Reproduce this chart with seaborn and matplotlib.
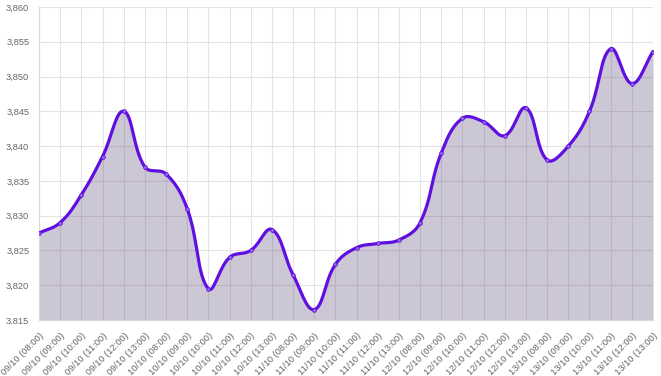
import numpy as np
import matplotlib
matplotlib.use("Agg")
import matplotlib.pyplot as plt
import seaborn as sns

# categories and values
days = ["09/10"] * 6 + ["10/10"] * 6 + ["11/10"] * 6 + ["12/10"] * 6 + ["13/10"] * 6
hours = ["08:00", "09:00", "10:00", "11:00", "12:00", "13:00"] * 5
labels = [f"{d} ({h})" for d, h in zip(days, hours)]
values = [3.8275, 3.829, 3.833, 3.8385, 3.845, 3.837,
          3.836, 3.831, 3.8195, 3.824, 3.825, 3.828,
          3.8215, 3.8165, 3.823, 3.8254, 3.826, 3.8265,
          3.829, 3.839, 3.844, 3.8435, 3.8415, 3.8455,
          3.838, 3.840, 3.845, 3.854, 3.849, 3.8536]
yticks = [3.815, 3.820, 3.825, 3.830, 3.835, 3.840, 3.845, 3.850, 3.855, 3.860]
ytick_labels = ["3.815", "3,820", "3,825", "3,830", "3,835", "3,840",
                "3,845", "3,850", "3,855", "3,860"]

line_color = "#600fe0"
fill_color = (88 / 255, 71 / 255, 117 / 255, 0.3)
grid_color = "#e3e3e3"
text_color = "#666666"

sns.set_style("white")
plt.rcParams["font.family"] = ["Liberation Sans", "DejaVu Sans"]

fig = plt.figure(figsize=(6.61, 3.76), dpi=100)
ax = fig.add_axes([39 / 661, 1 - 320 / 376, 614 / 661, 313 / 376])

# smooth curve like a tension 0.4 bezier, computed in pixel-ish space
x = np.arange(len(values), dtype=float)
y = np.array(values)
sx, sy = 21.17, 1 / 0.0001438
px, py = x * sx, y * sy
t = 0.4
n = len(px)
cp_prev = np.zeros((n, 2))
cp_next = np.zeros((n, 2))
for i in range(n):
    f = np.array([px[max(i - 1, 0)], py[max(i - 1, 0)]])
    m = np.array([px[i], py[i]])
    a = np.array([px[min(i + 1, n - 1)], py[min(i + 1, n - 1)]])
    d01 = np.hypot(*(m - f))
    d12 = np.hypot(*(a - m))
    s01 = d01 / (d01 + d12) if d01 + d12 else 0
    s12 = d12 / (d01 + d12) if d01 + d12 else 0
    cp_prev[i] = m - t * s01 * (a - f)
    cp_next[i] = m + t * s12 * (a - f)
cx, cy = [], []
u = np.linspace(0, 1, 30)[:, None]
for i in range(n - 1):
    p0 = np.array([px[i], py[i]])
    p3 = np.array([px[i + 1], py[i + 1]])
    p1, p2 = cp_next[i], cp_prev[i + 1]
    b = (1 - u) ** 3 * p0 + 3 * (1 - u) ** 2 * u * p1 + 3 * (1 - u) * u ** 2 * p2 + u ** 3 * p3
    cx.extend(b[:, 0] / sx)
    cy.extend(b[:, 1] / sy)
cx, cy = np.array(cx), np.clip(np.array(cy), 3.815, 3.860)

ax.fill_between(cx, cy, 3.815, color=fill_color, linewidth=0, zorder=2)
ax.plot(cx, cy, color=line_color, linewidth=2.3, zorder=3, solid_capstyle="round")
sns.scatterplot(x=x, y=y, ax=ax, color="#9a6af0", edgecolor=line_color,
                s=7, linewidth=0.6, zorder=4, legend=False)

ax.set_xlim(0, len(values) - 1)
ax.set_ylim(3.815, 3.860)
ax.set_xticks(x)
ax.set_xticklabels(labels, rotation=45, ha="right", rotation_mode="anchor",
                   fontsize=6.7, color=text_color)
ax.set_yticks(yticks)
ax.set_yticklabels(ytick_labels, fontsize=6.7, color=text_color)
ax.grid(True, color=grid_color, linewidth=0.8, zorder=0)
ax.set_axisbelow(True)
ax.tick_params(axis="both", length=5, width=0.8, color=grid_color, pad=2)
ax.tick_params(axis="x", pad=3)
for s in ["top", "right"]:
    ax.spines[s].set_visible(False)
for s in ["left", "bottom"]:
    ax.spines[s].set_color("#d9d9d9")
    ax.spines[s].set_linewidth(0.8)
ax.set_xlabel("")
ax.set_ylabel("")

fig.savefig("out.png", dpi=100)
